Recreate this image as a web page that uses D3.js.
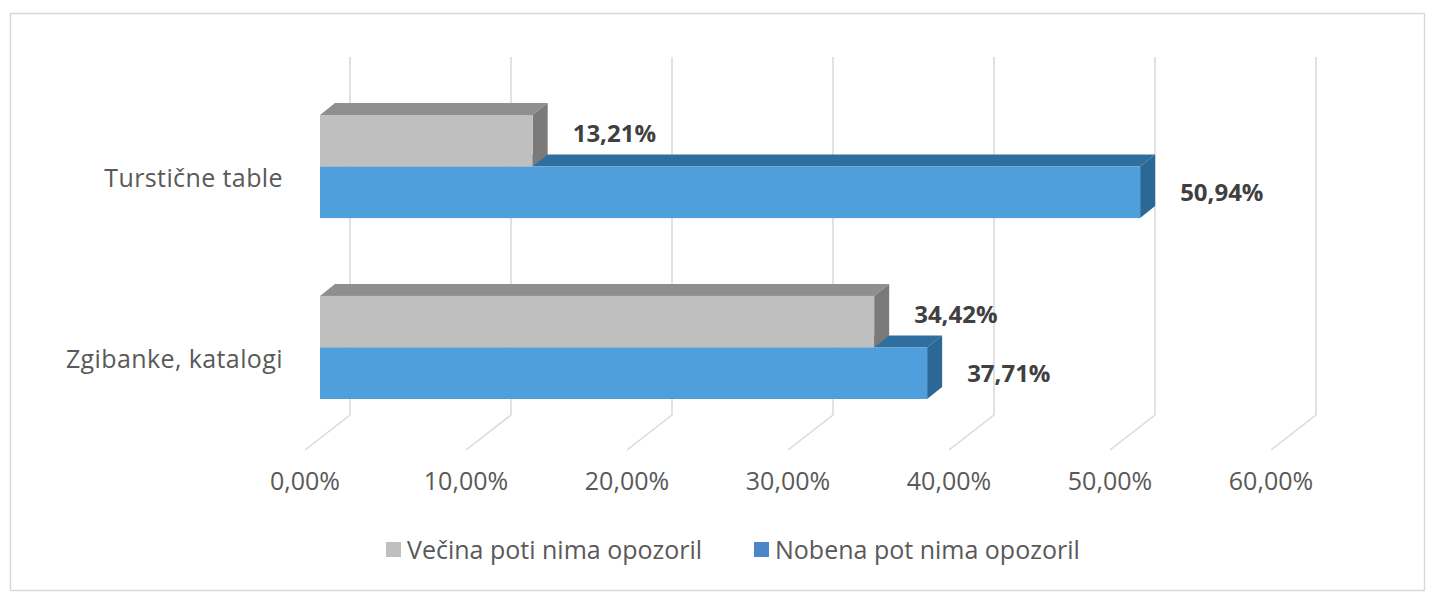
<!DOCTYPE html>
<html><head><meta charset="utf-8">
<script src="https://cdn.jsdelivr.net/npm/d3@7"></script>
<style>body{margin:0;background:#fff}svg{display:block}text{font-family:"Open Sans",sans-serif}</style>
</head><body>
<svg id="c" width="1429" height="592"></svg>
<script>
const categories = ["Turstične table", "Zgibanke, katalogi"];
const seriesNames = ["Večina poti nima opozoril", "Nobena pot nima opozoril"];
const vecina = [13.21, 34.42];
const nobena = [50.94, 37.71];
const ticks = [0, 10, 20, 30, 40, 50, 60];
const tickLabels = ["0,00%", "10,00%", "20,00%", "30,00%", "40,00%", "50,00%", "60,00%"];

const svg = d3.select("#c");
const fmt = v => v.toFixed(2).replace(".", ",") + "%";

svg.append("rect").attr("x", 10.5).attr("y", 13.5).attr("width", 1414).attr("height", 577)
  .attr("fill", "#fff").attr("stroke", "#d9d9d9").attr("stroke-width", 1.5);

const x = d3.scaleLinear().domain([0, 60]).range([320, 1286]);
const y = d3.scaleBand().domain(categories).range([115, 399]).paddingInner(0.43).paddingOuter(0);
const ys = d3.scaleBand().domain(seriesNames).range([0, y.bandwidth()]);

const wallDx = 30, wallTop = 57, wallBottom = 415, floorDx = -15, floorY = 450;
const g = svg.append("g");
// back wall gridlines + floor lines
ticks.forEach(t => {
  g.append("path")
    .attr("d", `M${x(t) + wallDx},${wallTop}V${wallBottom}L${x(t) + floorDx},${floorY}`)
    .attr("fill", "none").attr("stroke", "#d9d9d9").attr("stroke-width", 1.5);
});
// tick labels
ticks.forEach((t, i) => {
  g.append("text").attr("x", x(t) + floorDx).attr("y", 490).attr("text-anchor", "middle")
    .attr("font-size", 25).attr("fill", "#595959").text(tickLabels[i]);
});

const colors = {
  [seriesNames[0]]: {front: "#bfbfbf", top: "#8f8f8f", side: "#7a7a7a"},
  [seriesNames[1]]: {front: "#4f9fdc", top: "#2f6f9f", side: "#2c6896"}
};
const dx = 15, dy = -12;

function bar(cat, ser, v) {
  const c = colors[ser];
  const x0 = x(0), x1 = x(v), y0 = y(cat) + ys(ser), y1 = y0 + ys.bandwidth();
  g.append("path").attr("d", `M${x0},${y0}L${x0 + dx},${y0 + dy}L${x1 + dx},${y0 + dy}L${x1},${y0}Z`).attr("fill", c.top);
  g.append("path").attr("d", `M${x1},${y0}L${x1 + dx},${y0 + dy}L${x1 + dx},${y1 + dy}L${x1},${y1}Z`).attr("fill", c.side);
  g.append("rect").attr("x", x0).attr("y", y0).attr("width", x1 - x0).attr("height", y1 - y0).attr("fill", c.front);
}
categories.forEach((cat, i) => {
  bar(cat, seriesNames[1], nobena[i]);
  bar(cat, seriesNames[0], vecina[i]);
});

// data labels
categories.forEach((cat, i) => {
  [[seriesNames[0], vecina[i], -7], [seriesNames[1], nobena[i], 0]].forEach(([s, v, off]) => {
    g.append("text").attr("x", x(v) + 40).attr("y", y(cat) + ys(s) + ys.bandwidth() / 2 + off)
      .attr("dy", "0.35em").attr("font-size", 24).attr("font-weight", "bold").attr("fill", "#404040").text(fmt(v));
  });
});

// category labels
categories.forEach(cat => {
  g.append("text").attr("x", 283).attr("y", y(cat) + y.bandwidth() / 2 + 12).attr("dy", "0.35em")
    .attr("text-anchor", "end").attr("font-size", 25).attr("letter-spacing", 0.4).attr("fill", "#595959").text(cat);
});

// legend
const leg = [{n: seriesNames[0], c: "#bfbfbf", x: 386}, {n: seriesNames[1], c: "#4a86c8", x: 754}];
leg.forEach(l => {
  g.append("rect").attr("x", l.x).attr("y", 542).attr("width", 15).attr("height", 15).attr("fill", l.c);
  g.append("text").attr("x", l.x + 21).attr("y", 550).attr("dy", "0.35em").attr("font-size", 25)
    .attr("fill", "#595959").text(l.n);
});
</script>
</body></html>
